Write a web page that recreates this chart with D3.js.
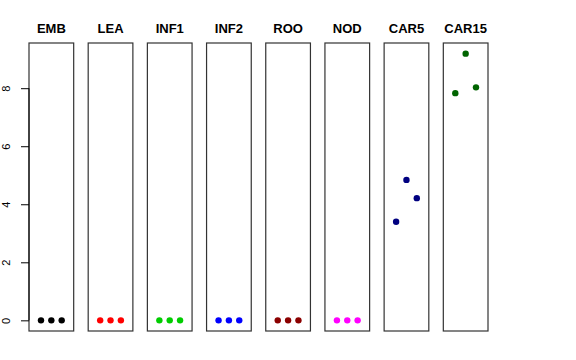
<!DOCTYPE html>
<html>
<head>
<meta charset="utf-8">
<script src="https://cdn.jsdelivr.net/npm/d3@7"></script>
<style>
  body { margin: 0; background: #fff; }
  svg { font-family: "Liberation Sans", Arial, sans-serif; }
</style>
</head>
<body>
<svg id="chart" width="576" height="360"></svg>
<script>
const tissues = ['EMB', 'LEA', 'INF1', 'INF2', 'ROO', 'NOD', 'CAR5', 'CAR15']
const colors = ['#000000', '#ff0000', '#00cd00', '#0000ff', '#8b0000', '#ff00ff', '#000080', '#006400']
const replicates = [1, 2, 3]
const values = [
  [0, 0, 0],
  [0, 0, 0],
  [0, 0, 0],
  [0, 0, 0],
  [0, 0, 0],
  [0, 0, 0],
  [3.40, 4.84, 4.21],
  [7.83, 9.19, 8.03]
]
const yTicks = [0, 2, 4, 6, 8]

const svg = d3.select('#chart')

const plotTop = 43, plotBottom = 331
const yMax = d3.max(values.flat())
const yPad = yMax * 0.04
const y = d3.scaleLinear()
  .domain([-yPad, yMax + yPad])
  .range([plotBottom, plotTop])

const panel = d3.scaleBand()
  .domain(tissues)
  .range([29, 488])
  .paddingInner(0.245)
  .paddingOuter(0)

const x = d3.scaleLinear()
  .domain([0 - 0.16, 4 + 0.16])
  .range([0, panel.bandwidth()])

const groups = svg.selectAll('g.panel')
  .data(tissues)
  .enter()
  .append('g')
  .attr('class', 'panel')
  .attr('transform', d => `translate(${panel(d)},0)`)

groups.append('rect')
  .attr('x', 0)
  .attr('y', plotTop)
  .attr('width', panel.bandwidth())
  .attr('height', plotBottom - plotTop)
  .attr('fill', 'none')
  .attr('stroke', '#333')
  .attr('stroke-width', 1.2)

groups.append('text')
  .attr('x', panel.bandwidth() / 2)
  .attr('y', 33)
  .attr('text-anchor', 'middle')
  .attr('font-weight', 'bold')
  .attr('font-size', 13)
  .text(d => d)

groups.selectAll('circle')
  .data((d, i) => values[i].map((v, j) => ({ x: replicates[j], y: v, color: colors[i] })))
  .enter()
  .append('circle')
  .attr('cx', d => x(d.x))
  .attr('cy', d => y(d.y))
  .attr('r', 3.2)
  .attr('fill', d => d.color)

// y axis on the first panel only
const axis = svg.append('g')
  .attr('transform', `translate(${panel(tissues[0])},0)`)
  .call(d3.axisLeft(y).tickValues(yTicks).tickSize(8).tickPadding(0))

axis.select('.domain')
  .attr('d', `M0,${y(0)}V${y(8)}`)
  .attr('stroke', '#000')
axis.selectAll('.tick line').attr('stroke', '#000')
axis.selectAll('.tick text')
  .attr('font-size', 11)
  .attr('font-family', '"Liberation Sans", Arial, sans-serif')
  .attr('fill', '#000')
  .attr('text-anchor', 'middle')
  .attr('dy', 0)
  .attr('x', 0)
  .attr('transform', 'translate(-22,0) rotate(-90)')
  .attr('dominant-baseline', 'middle')
</script>
</body>
</html>
